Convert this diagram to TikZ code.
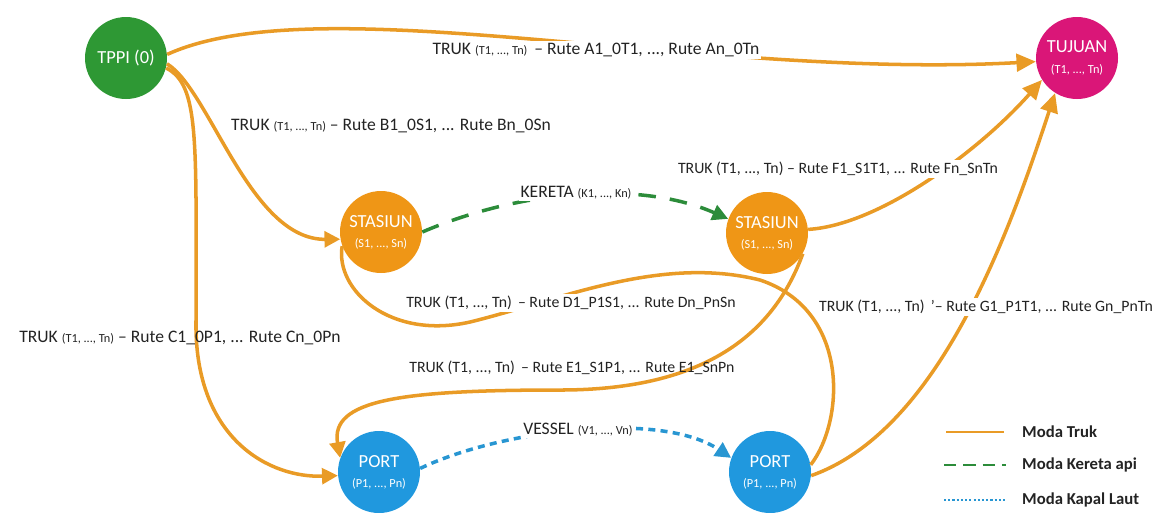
\documentclass[tikz,border=0pt]{standalone}
\usepackage{fontspec}
\setmainfont{Carlito}
\usetikzlibrary{arrows.meta}

\definecolor{trukOrange}{RGB}{233,155,38}
\definecolor{stasiunOrange}{RGB}{239,150,22}
\definecolor{tppiGreen}{RGB}{46,152,52}
\definecolor{keretaGreen}{RGB}{44,140,58}
\definecolor{tujuanPink}{RGB}{218,22,120}
\definecolor{portBlue}{RGB}{32,152,222}
\definecolor{kapalBlue}{RGB}{40,150,210}
\definecolor{labelGray}{RGB}{35,35,35}

\newcommand{\kecil}[1]{{\fontsize{7}{8}\selectfont #1}}

\begin{document}
\begin{tikzpicture}[x=0.02cm,y=-0.02cm,
  simpul/.style={circle,minimum size=1.64cm,inner sep=0pt,text=white,align=center,
    font=\fontsize{10.5}{11.5}\selectfont},
  truk/.style={draw=trukOrange,line width=2pt},
  kereta/.style={draw=keretaGreen,line width=2pt,dash pattern=on 10pt off 8pt},
  kapal/.style={draw=kapalBlue,line width=2pt,dash pattern=on 4pt off 3pt},
  panah/.style={-{Triangle[length=9pt,width=9pt]}},
  panahbesar/.style={-{Triangle[length=11pt,width=10pt]}},
  rute/.style={text=labelGray,inner sep=1pt,font=\fontsize{10}{12}\selectfont},
  rutekecil/.style={text=labelGray,inner sep=1pt,font=\fontsize{9}{11}\selectfont},
  latar/.style={fill=white},
  legenda/.style={anchor=west,text=labelGray,font=\bfseries\fontsize{9.5}{11}\selectfont}]

\useasboundingbox (0,0) rectangle (1158,512);

% simpul
\node[simpul,fill=tppiGreen] (tppi) at (126,58) {TPPI (0)};
\node[simpul,fill=tujuanPink] (tujuan) at (1077,58) {TUJUAN\\\kecil{(T1, ..., Tn)}};
\node[simpul,fill=stasiunOrange] (stasiunA) at (381,232) {STASIUN\\\kecil{(S1, ..., Sn)}};
\node[simpul,fill=stasiunOrange] (stasiunB) at (767,233) {STASIUN\\\kecil{(S1, ..., Sn)}};
\node[simpul,fill=portBlue] (portA) at (379,472) {PORT\\\kecil{(P1, ..., Pn)}};
\node[simpul,fill=portBlue] (portB) at (770,472) {PORT\\\kecil{(P1, ..., Pn)}};

% rute truk
\draw[truk,panahbesar] (tppi.5) .. controls (320,-15) and (700,80) .. (tujuan.185);
\draw[truk,panah] (tppi.-8) .. controls (210,90) and (250,240) .. (stasiunA.190);
\draw[truk,panah] (tppi.-14) .. controls (200,85) and (196,140) .. (196,330)
  .. controls (198,440) and (270,478) .. (portA.185);
\draw[truk] (portB.10) .. controls (845,420) and (850,310) .. (760,280)
  .. controls (660,255) and (560,300) .. (470,322)
  .. controls (390,340) and (335,290) .. (stasiunA.200);
\draw[truk,panah] (stasiunB.-30) .. controls (775,330) and (710,390) .. (560,390)
  .. controls (400,390) and (330,400) .. (portA.160);
\draw[truk,panahbesar] (stasiunB.5) .. controls (880,225) and (980,150) .. (tujuan.212);
\draw[truk,panahbesar] (portB.-5) .. controls (940,430) and (1010,230) .. (tujuan.238);

% kereta dan kapal
\draw[kereta,panah] (stasiunA.east) .. controls (520,190) and (640,180) .. (stasiunB.160);
\draw[kapal,panah] (portA.5) .. controls (500,430) and (660,410) .. (portB.160);

% label
\node[rute,latar] (labelA) at (596,50) {TRUK \kecil{(T1, ..., Tn)} \,-- Rute A1\_0T1, ..., Rute An\_0Tn};
\node[rute] (labelB) at (391,126) {TRUK \kecil{(T1, ..., Tn)} -- Rute B1\_0S1, ... Rute Bn\_0Sn};
\node[rute] (labelC) at (180,338) {TRUK \kecil{(T1, ..., Tn)} -- Rute C1\_0P1, ... Rute Cn\_0Pn};
\node[rute,latar] (labelK) at (576,193) {KERETA \kecil{(K1, ..., Kn)}};
\node[rute,latar] (labelV) at (578,430) {VESSEL \kecil{(V1, ..., Vn)}};
\node[rutekecil,latar] (labelF) at (838,169) {TRUK (T1, ..., Tn) -- Rute F1\_S1T1, ... Rute Fn\_SnTn};
\node[rutekecil,latar] (labelD) at (571,303) {TRUK (T1, ..., Tn) \,-- Rute D1\_P1S1, ... Rute Dn\_PnSn};
\node[rutekecil] (labelE) at (572,368) {TRUK (T1, ..., Tn) \,-- Rute E1\_S1P1, ... Rute E1\_SnPn};
\node[rutekecil,latar] (labelG) at (986,307) {TRUK (T1, ..., Tn) \,'-- Rute G1\_P1T1, ... Rute Gn\_PnTn};

% legenda
\node[legenda] (lgTruk) at (1016,432) {Moda Truk};
\node[legenda] (lgKereta) at (1016,465) {Moda Kereta api};
\node[legenda] (lgKapal) at (1016,500) {Moda Kapal Laut};
\draw[trukOrange,line width=0.9pt] (lgTruk.west) ++(-70,0) -- ++(58,0);
\draw[keretaGreen,line width=0.9pt,dash pattern=on 7pt off 4pt] (lgKereta.west) ++(-72,0) -- ++(62,0);
\draw[kapalBlue,line width=0.7pt,dash pattern=on 1.2pt off 1.2pt] (lgKapal.west) ++(-72,0) -- ++(62,0);
\end{tikzpicture}
\end{document}
